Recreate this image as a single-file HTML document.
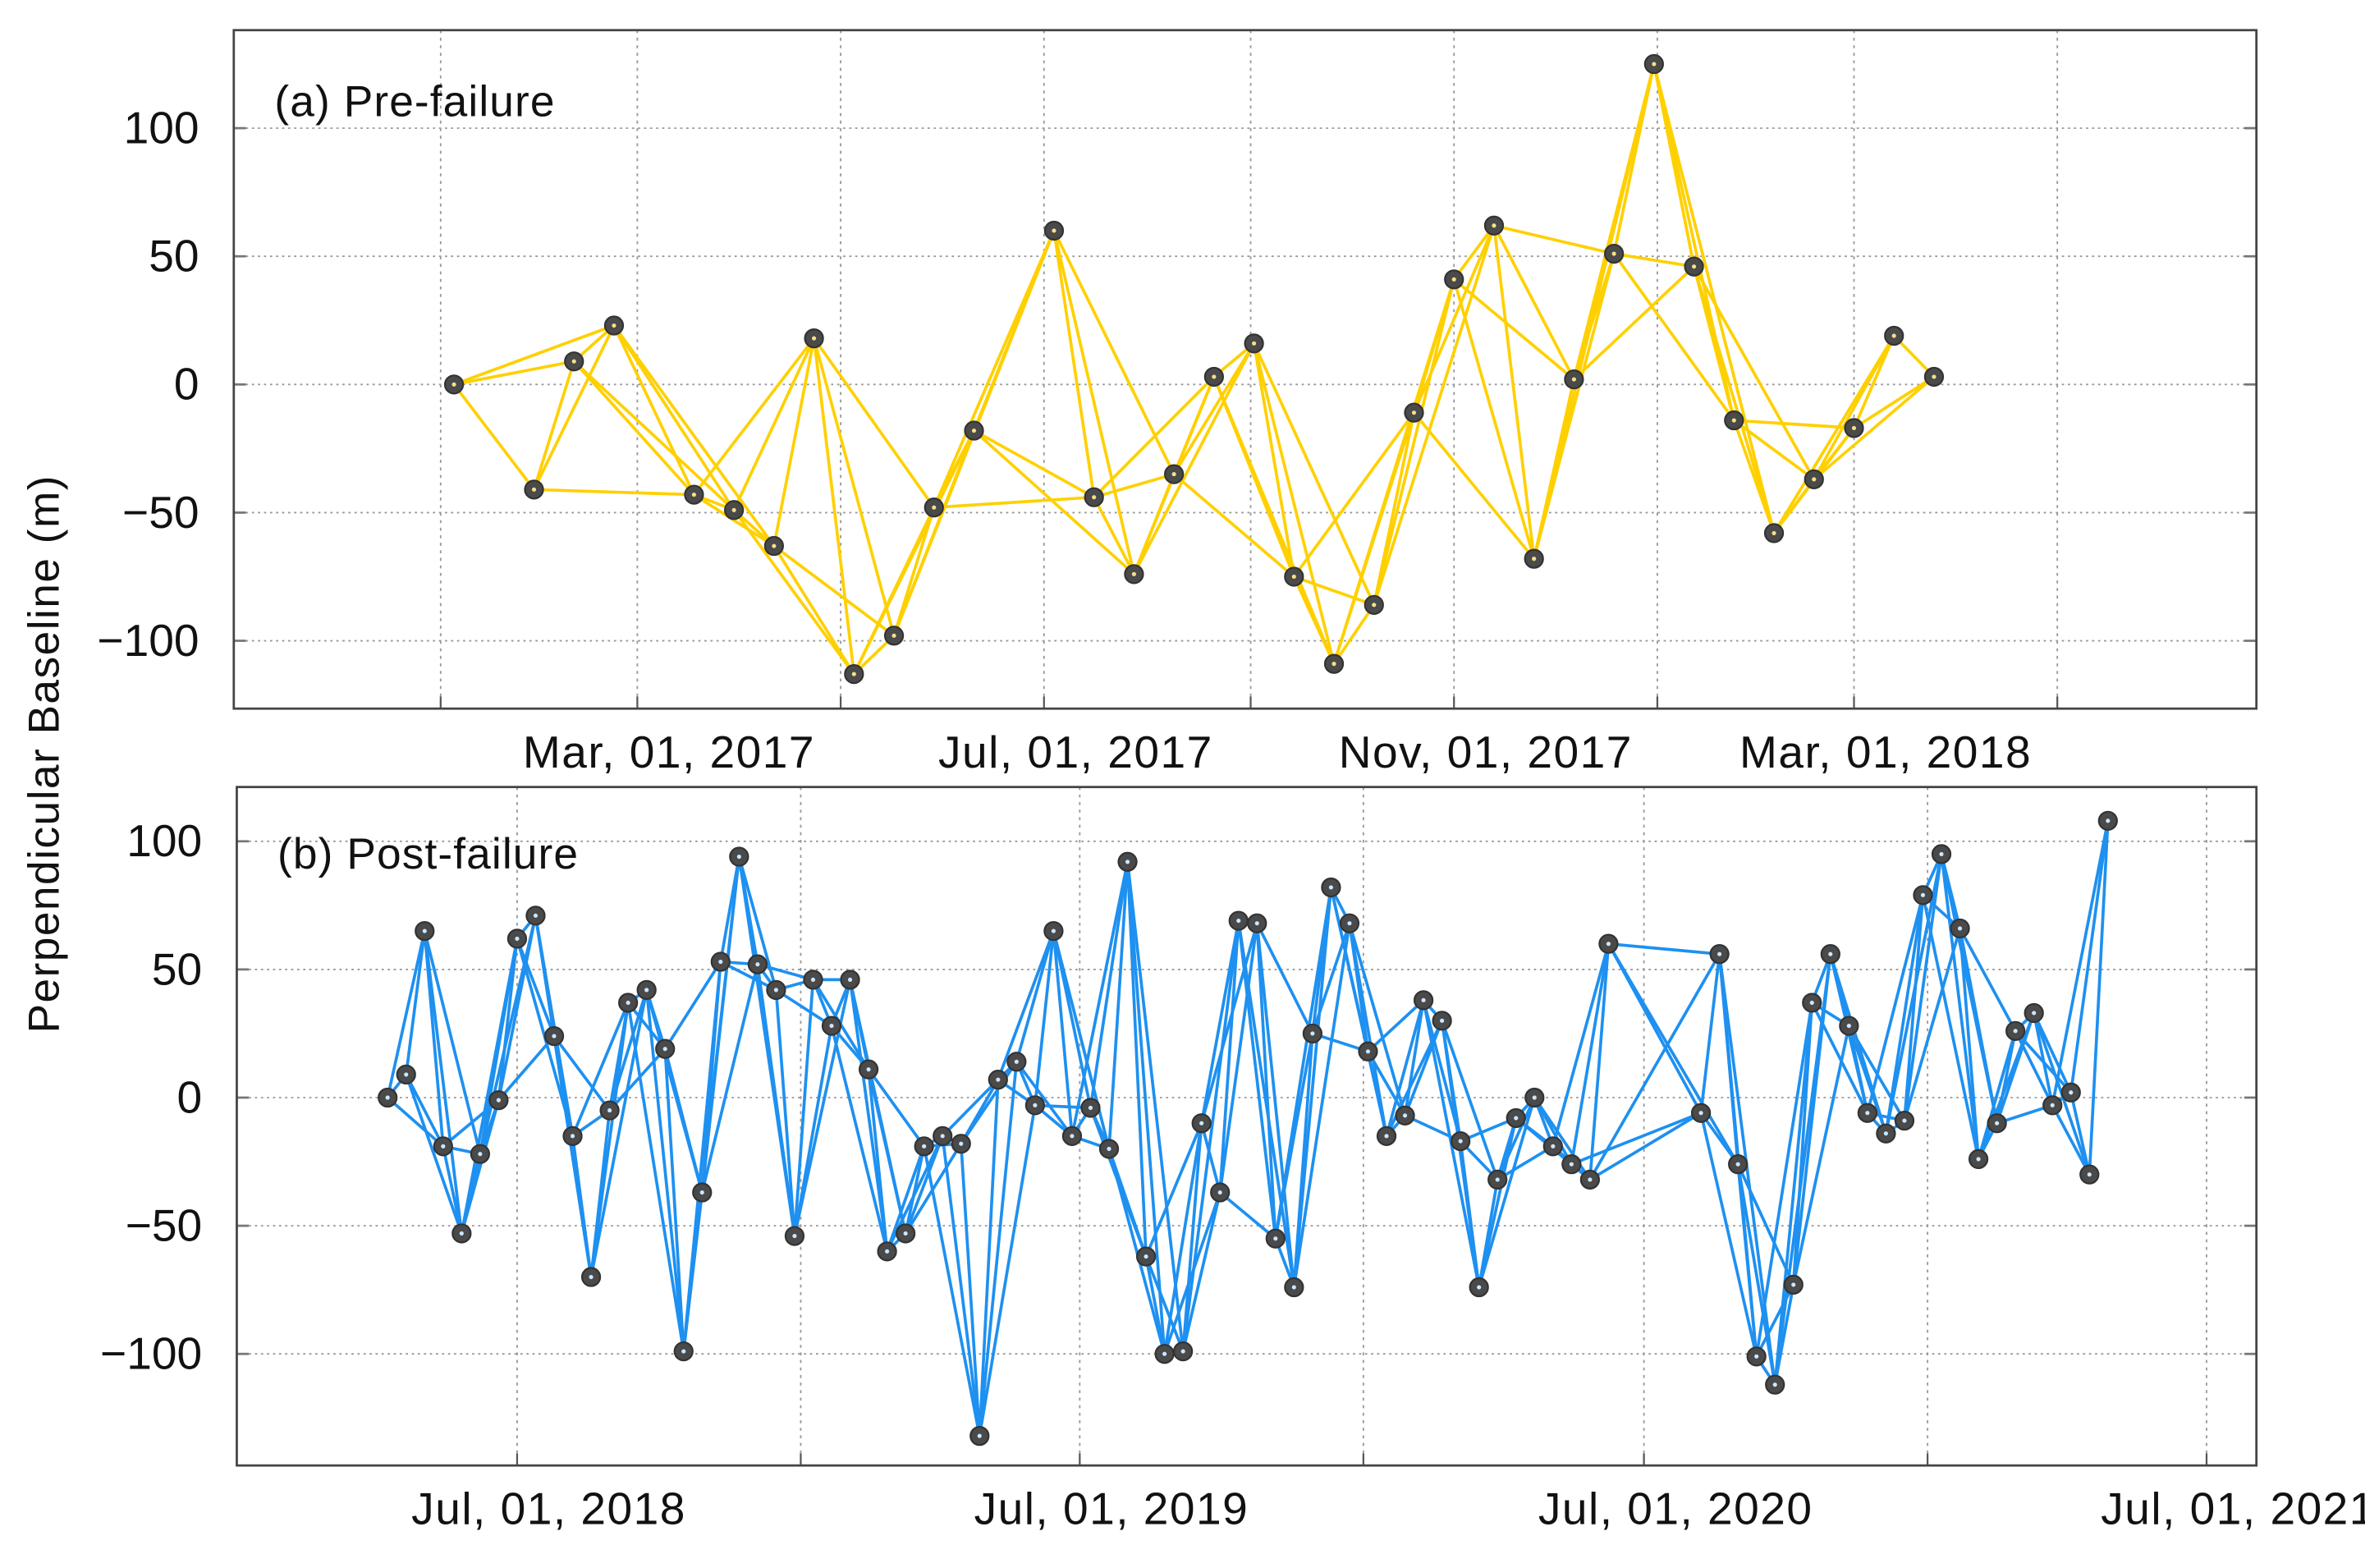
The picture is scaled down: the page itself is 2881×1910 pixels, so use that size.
<!DOCTYPE html>
<html><head><meta charset="utf-8"><style>
html,body{margin:0;padding:0;background:#fff;}
svg{display:block;}
text{font-family:"Liberation Sans",Arial,sans-serif;fill:#111;}
</style></head><body>
<svg id="chart" width="2881" height="1910" viewBox="0 0 1568 1040" preserveAspectRatio="none" xmlns="http://www.w3.org/2000/svg">
<text transform="translate(39,500) rotate(-90)" text-anchor="middle" font-size="29" letter-spacing="0.8">Perpendicular Baseline (m)</text>
</svg>
<script>
// ---- Panel (a) data: day offsets from 2017-01-05, perpendicular baseline (m)
const daysA = [0,24,36,48,72,84,96,108,120,132,144,156,180,192,204,216,228,240,252,264,276,288,300,312,324,336,348,360,372,384,396,408,420,432,444];
const valsA = [0,-41,9,23,-43,-49,-63,18,-113,-98,-48,-18,60,-44,-74,-35,3,16,-75,-109,-86,-11,41,62,-68,2,51,125,46,-14,-58,-37,-17,19,3];
const ticksYA = [100,50,0,-50,-100];
const labelsXA = ["Mar, 01, 2017","Jul, 01, 2017","Nov, 01, 2017","Mar, 01, 2018"];
const labelDaysA = [55,177,300,420];
const gridDaysA = [-4,55,116,177,239,300,361,420,481];
// ---- Panel (b) data: day offsets from 2018-04-08
const daysB = [0,12,24,36,48,60,72,84,96,108,120,132,144,156,168,180,192,204,216,228,240,252,264,276,288,300,312,324,336,348,360,372,384,396,408,420,432,444,456,468,480,492,504,516,528,540,552,564,576,588,600,612,624,636,648,660,672,684,696,708,720,732,744,756,768,780,792,852,864,876,888,900,912,924,936,948,960,972,984,996,1008,1020,1032,1044,1056,1068,1080,1092,1104,1116];
const valsB = [0,9,65,-19,-53,-22,-1,62,71,24,-15,-70,-5,37,42,19,-99,-37,53,94,52,42,-54,46,28,46,11,-60,-53,-19,-15,-18,-132,7,14,-3,65,-15,-4,-20,92,-62,-100,-99,-10,-37,69,68,-55,-74,25,82,68,18,-15,-7,38,30,-17,-74,-32,-8,0,-19,-26,-32,60,-6,56,-26,-101,-112,-73,37,56,28,-6,-14,-9,79,95,66,-24,-10,26,33,-3,2,-30,108];
const ticksYB = [100,50,0,-50,-100];
const labelsXB = ["Jul, 01, 2018","Jul, 01, 2019","Jul, 01, 2020","Jul, 01, 2021"];
const labelDaysB = [84,449,815,1180];
const gridDaysB = [84,268,449,633,815,999,1180];

const NS="http://www.w3.org/2000/svg";
const svg=document.getElementById('chart');
function mk(tag,attrs,parent){const e=document.createElementNS(NS,tag);for(const k in attrs)e.setAttribute(k,attrs[k]);(parent||svg).appendChild(e);return e;}

function panel(cfg){
  const g=mk('g',{});
  
  
  const X=d=>cfg.x0+d*cfg.kx;
  const Y=v=>cfg.y0-v*1.7;
  cfg.ticksY.forEach(t=>{
    const l=mk('line',{x1:cfg.left,x2:cfg.right,y1:Y(t),y2:Y(t),stroke:'#999','stroke-width':1,'stroke-dasharray':'1.5,2.5'},g);
    
    
    mk('line',{x1:cfg.left,x2:cfg.left+8,y1:Y(t),y2:Y(t),stroke:'#777','stroke-width':1.5},g);
    mk('line',{x1:cfg.right-8,x2:cfg.right,y1:Y(t),y2:Y(t),stroke:'#777','stroke-width':1.5},g);
    const tx=mk('text',{x:cfg.left-23,y:Y(t)+10,'text-anchor':'end','font-size':30},g);
    tx.textContent=(t<0?'\u2212'+(-t):String(t));
    
    
  });
  cfg.gridDays.forEach(d=>{
    const l=mk('line',{x1:X(d),x2:X(d),y1:cfg.top,y2:cfg.bottom,stroke:'#999','stroke-width':1,'stroke-dasharray':'2,3'},g);
    
    
    mk('line',{x1:X(d),x2:X(d),y1:cfg.bottom-8,y2:cfg.bottom,stroke:'#555','stroke-width':1.2},g);
  });
  cfg.labels.forEach((s,i)=>{
    const tx=mk('text',{x:X(cfg.labelDays[i])+21,y:cfg.bottom+39,'text-anchor':'middle','font-size':30,'letter-spacing':0.8},g);
    tx.textContent=s;
    
    
  });
  const box=mk('rect',{x:cfg.left,y:cfg.top,width:cfg.right-cfg.left,height:cfg.bottom-cfg.top,fill:'none',stroke:'#444','stroke-width':1.5},g);
  
  
  const n=cfg.days.length;
  for(let i=0;i<n;i++){
    for(let j=i+1;j<=Math.min(n-1,i+3);j++){
      const l=mk('line',{x1:X(cfg.days[i]),y1:Y(cfg.vals[i]),x2:X(cfg.days[j]),y2:Y(cfg.vals[j]),stroke:cfg.color,'stroke-width':2},g);
      
      
    }
  }
  for(let i=0;i<n;i++){
    const c=mk('circle',{cx:X(cfg.days[i]),cy:Y(cfg.vals[i]),r:6,fill:'#4a4a4a',stroke:'#333','stroke-width':1.2},g);
    
    
    mk('circle',{cx:X(cfg.days[i]),cy:Y(cfg.vals[i]),r:1.4,fill:cfg.dot},g);
  }
  const t=mk('text',{x:cfg.left+27,y:cfg.titleY,'font-size':29,'letter-spacing':0.6},g);
  t.textContent=cfg.title;
  
  
}
panel({name:'panel-pre-failure',left:155,right:1496,top:20,bottom:470,y0:255,x0:301,kx:2.21,
  days:daysA,vals:valsA,ticksY:ticksYA,labels:labelsXA,labelDays:labelDaysA,gridDays:gridDaysA,
  color:'#FFD000',dot:'#f5e08a',title:'(a) Pre-failure',titleY:77});
panel({name:'panel-post-failure',left:157,right:1496,top:522,bottom:972,y0:728,x0:257,kx:1.022,
  days:daysB,vals:valsB,ticksY:ticksYB,labels:labelsXB,labelDays:labelDaysB,gridDays:gridDaysB,
  color:'#1E90F0',dot:'#cfe6ff',title:'(b) Post-failure',titleY:576});
</script>
</body></html>
